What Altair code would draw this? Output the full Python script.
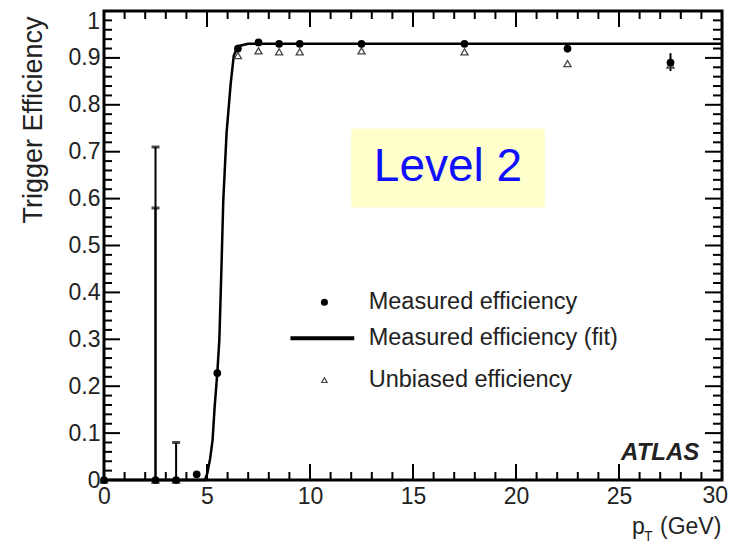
import altair as alt
import pandas as pd

# ---------------- data ----------------
meas_x = [0, 2.5, 3.5, 4.5, 5.5, 6.5, 7.5, 8.5, 9.5, 12.5, 17.5, 22.5, 27.5]
meas_y = [0, 0, 0, 0.012, 0.228, 0.92, 0.933, 0.93, 0.93, 0.93, 0.93, 0.92, 0.89]

unb_x = [0, 2.5, 3.5, 6.5, 7.5, 8.5, 9.5, 12.5, 17.5, 22.5, 27.5]
unb_y = [0, 0, 0, 0.905, 0.915, 0.913, 0.913, 0.915, 0.913, 0.888, 0.885]

err_x = [2.5, 2.5, 3.5, 22.5, 27.5]
err_lo = [0, 0, 0, 0.912, 0.872]
err_hi = [0.71, 0.58, 0.08, 0.928, 0.91]
err_cap = [True, True, True, False, False]

fit_x = [0, 4.9, 5.02, 5.15, 5.27, 5.37, 5.5, 5.6, 5.7, 5.79, 5.95, 6.15, 6.3, 6.5, 7.0, 30]
fit_y = [0, 0, 0.015, 0.045, 0.085, 0.155, 0.228, 0.30, 0.45, 0.596, 0.74, 0.845, 0.905, 0.925, 0.93, 0.93]

x_major = [0, 5, 10, 15, 20, 25, 30]
x_minor = [v for v in range(0, 31) if v % 5 != 0]
y_major = [round(i / 10, 1) for i in range(0, 11)]
y_minor = [round(i / 50, 2) for i in range(0, 51) if i % 5 != 0]

legend_labels = ["Measured efficiency", "Measured efficiency (fit)", "Unbiased efficiency"]
legend_y = [0.379, 0.302, 0.213]

FONT = "Liberation Sans"
W, H = 618, 469

xs = alt.Scale(domain=[0, 30], nice=False, zero=False)
ys = alt.Scale(domain=[0, 1], nice=False, zero=False)

fit_df = pd.DataFrame({"x": fit_x, "y": fit_y})
meas_df = pd.DataFrame({"x": meas_x, "y": meas_y})
unb_df = pd.DataFrame({"x": unb_x, "y": unb_y})
err_df = pd.DataFrame({"x": err_x, "lo": err_lo, "hi": err_hi, "cap": err_cap})
cap_df = err_df[err_df["cap"]]

xt_maj = pd.DataFrame({"v": x_major})
xt_min = pd.DataFrame({"v": x_minor})
yt_maj = pd.DataFrame({"v": y_major})
yt_min = pd.DataFrame({"v": y_minor})

# level-2 box and labels (in data units)
box_df = pd.DataFrame({"x": [12.0], "x2": [21.4], "y": [0.749], "y2": [0.581]})
lvl_df = pd.DataFrame({"x": [16.7], "y": [0.668], "t": ["Level 2"]})
atlas_df = pd.DataFrame({"x": [28.9], "y": [0.058], "t": ["ATLAS"]})

leg_text_df = pd.DataFrame({"x": [12.85] * 3, "y": legend_y, "t": legend_labels})
leg_pt_df = pd.DataFrame({"x": [10.7], "y": [legend_y[0]]})
leg_tri_df = pd.DataFrame({"x": [10.7], "y": [legend_y[2]]})
leg_line_df = pd.DataFrame({"x": [9.05], "x2": [12.15], "y": [legend_y[1]]})

x_axis = alt.Axis(values=x_major, tickSize=0, domain=False, grid=False,
                  labelExpr="datum.value >= 29.9 ? '' : format(datum.value, 'd')",
                  labelFont=FONT, labelFontSize=23, labelColor="#222", labelPadding=5,
                  title=None, labelFlush=False)
y_axis = alt.Axis(values=y_major, tickSize=0, domain=False, grid=False,
                  labelExpr="datum.value >= 0.999 ? '' : format(datum.value, '~g')",
                  labelFont=FONT, labelFontSize=23, labelColor="#222", labelPadding=4,
                  title=None, labelFlush=False)

base_x = alt.X("x:Q", scale=xs, axis=x_axis)
base_y = alt.Y("y:Q", scale=ys, axis=y_axis)

box = alt.Chart(box_df).mark_rect(color="#ffffcc").encode(
    x=alt.X("x:Q", scale=xs), x2="x2:Q", y=alt.Y("y:Q", scale=ys), y2="y2:Q")
lvl = alt.Chart(lvl_df).mark_text(font=FONT, fontSize=46, color="#1010ff",
                                  align="center", baseline="middle").encode(
    x=alt.X("x:Q", scale=xs), y=alt.Y("y:Q", scale=ys), text="t:N")

def tick_layer(df, axis, length):
    if axis == "bottom":
        enc = dict(x=alt.X("v:Q", scale=xs), y=alt.value(H), y2=alt.value(H - length))
    elif axis == "top":
        enc = dict(x=alt.X("v:Q", scale=xs), y=alt.value(0), y2=alt.value(length))
    elif axis == "left":
        enc = dict(y=alt.Y("v:Q", scale=ys), x=alt.value(0), x2=alt.value(length))
    else:
        enc = dict(y=alt.Y("v:Q", scale=ys), x=alt.value(W), x2=alt.value(W - length))
    return alt.Chart(df).mark_rule(color="black", strokeWidth=2).encode(**enc)

ticks = [
    tick_layer(xt_maj, "bottom", 16), tick_layer(xt_min, "bottom", 8),
    tick_layer(xt_maj, "top", 16), tick_layer(xt_min, "top", 8),
    tick_layer(yt_maj, "left", 16), tick_layer(yt_min, "left", 8),
    tick_layer(yt_maj, "right", 17), tick_layer(yt_min, "right", 9),
]

errs = alt.Chart(err_df).mark_rule(color="black", strokeWidth=2).encode(
    x=alt.X("x:Q", scale=xs), y=alt.Y("lo:Q", scale=ys), y2="hi:Q")
caps = alt.Chart(cap_df).mark_tick(color="black", orient="horizontal", size=8, thickness=3).encode(
    x=alt.X("x:Q", scale=xs), y=alt.Y("hi:Q", scale=ys))

unb = alt.Chart(unb_df).mark_point(shape="triangle-up", filled=False, color="#444",
                                   strokeWidth=1.3, size=50, opacity=1).encode(
    x=alt.X("x:Q", scale=xs), y=alt.Y("y:Q", scale=ys))
fit = alt.Chart(fit_df).mark_line(color="black", strokeWidth=2.5).encode(x=base_x, y=base_y)
meas = alt.Chart(meas_df).mark_point(shape="circle", filled=True, color="black",
                                     size=60, opacity=1).encode(
    x=alt.X("x:Q", scale=xs), y=alt.Y("y:Q", scale=ys))

leg_text = alt.Chart(leg_text_df).mark_text(font=FONT, fontSize=23.5, color="#222",
                                            align="left", baseline="middle").encode(
    x=alt.X("x:Q", scale=xs), y=alt.Y("y:Q", scale=ys), text="t:N")
leg_pt = alt.Chart(leg_pt_df).mark_point(shape="circle", filled=True, color="black",
                                         size=50, opacity=1).encode(
    x=alt.X("x:Q", scale=xs), y=alt.Y("y:Q", scale=ys))
leg_tri = alt.Chart(leg_tri_df).mark_point(shape="triangle-up", filled=False, color="#444",
                                           strokeWidth=1.2, size=30, opacity=1).encode(
    x=alt.X("x:Q", scale=xs), y=alt.Y("y:Q", scale=ys))
leg_line = alt.Chart(leg_line_df).mark_rule(color="black", strokeWidth=4).encode(
    x=alt.X("x:Q", scale=xs), x2="x2:Q", y=alt.Y("y:Q", scale=ys))

atlas = alt.Chart(atlas_df).mark_text(font=FONT, fontSize=24, fontStyle="italic",
                                      fontWeight="bold", color="#222",
                                      align="right", baseline="middle").encode(
    x=alt.X("x:Q", scale=xs), y=alt.Y("y:Q", scale=ys), text="t:N")

top_lbl = alt.Chart(pd.DataFrame({"t": ["1"]})).mark_text(
    font=FONT, fontSize=23, color="#222", align="right", baseline="middle").encode(
    x=alt.value(-4), y=alt.value(11), text="t:N")
end_lbl = alt.Chart(pd.DataFrame({"t": ["30"]})).mark_text(
    font=FONT, fontSize=23, color="#222", align="right", baseline="top").encode(
    x=alt.value(W + 6), y=alt.value(H + 5), text="t:N")
ytitle = alt.Chart(pd.DataFrame({"t": ["Trigger Efficiency"]})).mark_text(
    font=FONT, fontSize=27, color="#222", angle=270, align="center", baseline="middle").encode(
    x=alt.value(-70), y=alt.value(109), text="t:N")
xt_p = alt.Chart(pd.DataFrame({"t": ["p"]})).mark_text(
    font=FONT, fontSize=23, color="#222", align="left", baseline="alphabetic").encode(
    x=alt.value(528), y=alt.value(523), text="t:N")
xt_T = alt.Chart(pd.DataFrame({"t": ["T"]})).mark_text(
    font=FONT, fontSize=14, color="#222", align="left", baseline="alphabetic").encode(
    x=alt.value(540), y=alt.value(530), text="t:N")
xt_g = alt.Chart(pd.DataFrame({"t": ["(GeV)"]})).mark_text(
    font=FONT, fontSize=23, color="#222", align="left", baseline="alphabetic").encode(
    x=alt.value(556), y=alt.value(523), text="t:N")

chart = alt.layer(
    fit, box, lvl, *ticks, errs, caps, unb, meas,
    leg_line, leg_pt, leg_tri, leg_text, atlas, top_lbl, end_lbl, ytitle, xt_p, xt_T, xt_g
).properties(
    width=W, height=H,
    autosize=alt.AutoSizeParams(type="none"),
    padding={"left": 96, "top": 3, "right": 7, "bottom": 64},
    background="white",
).configure_view(stroke="black", strokeWidth=3)

chart.save("out.html", embed_options={"renderer": "svg", "actions": False})
